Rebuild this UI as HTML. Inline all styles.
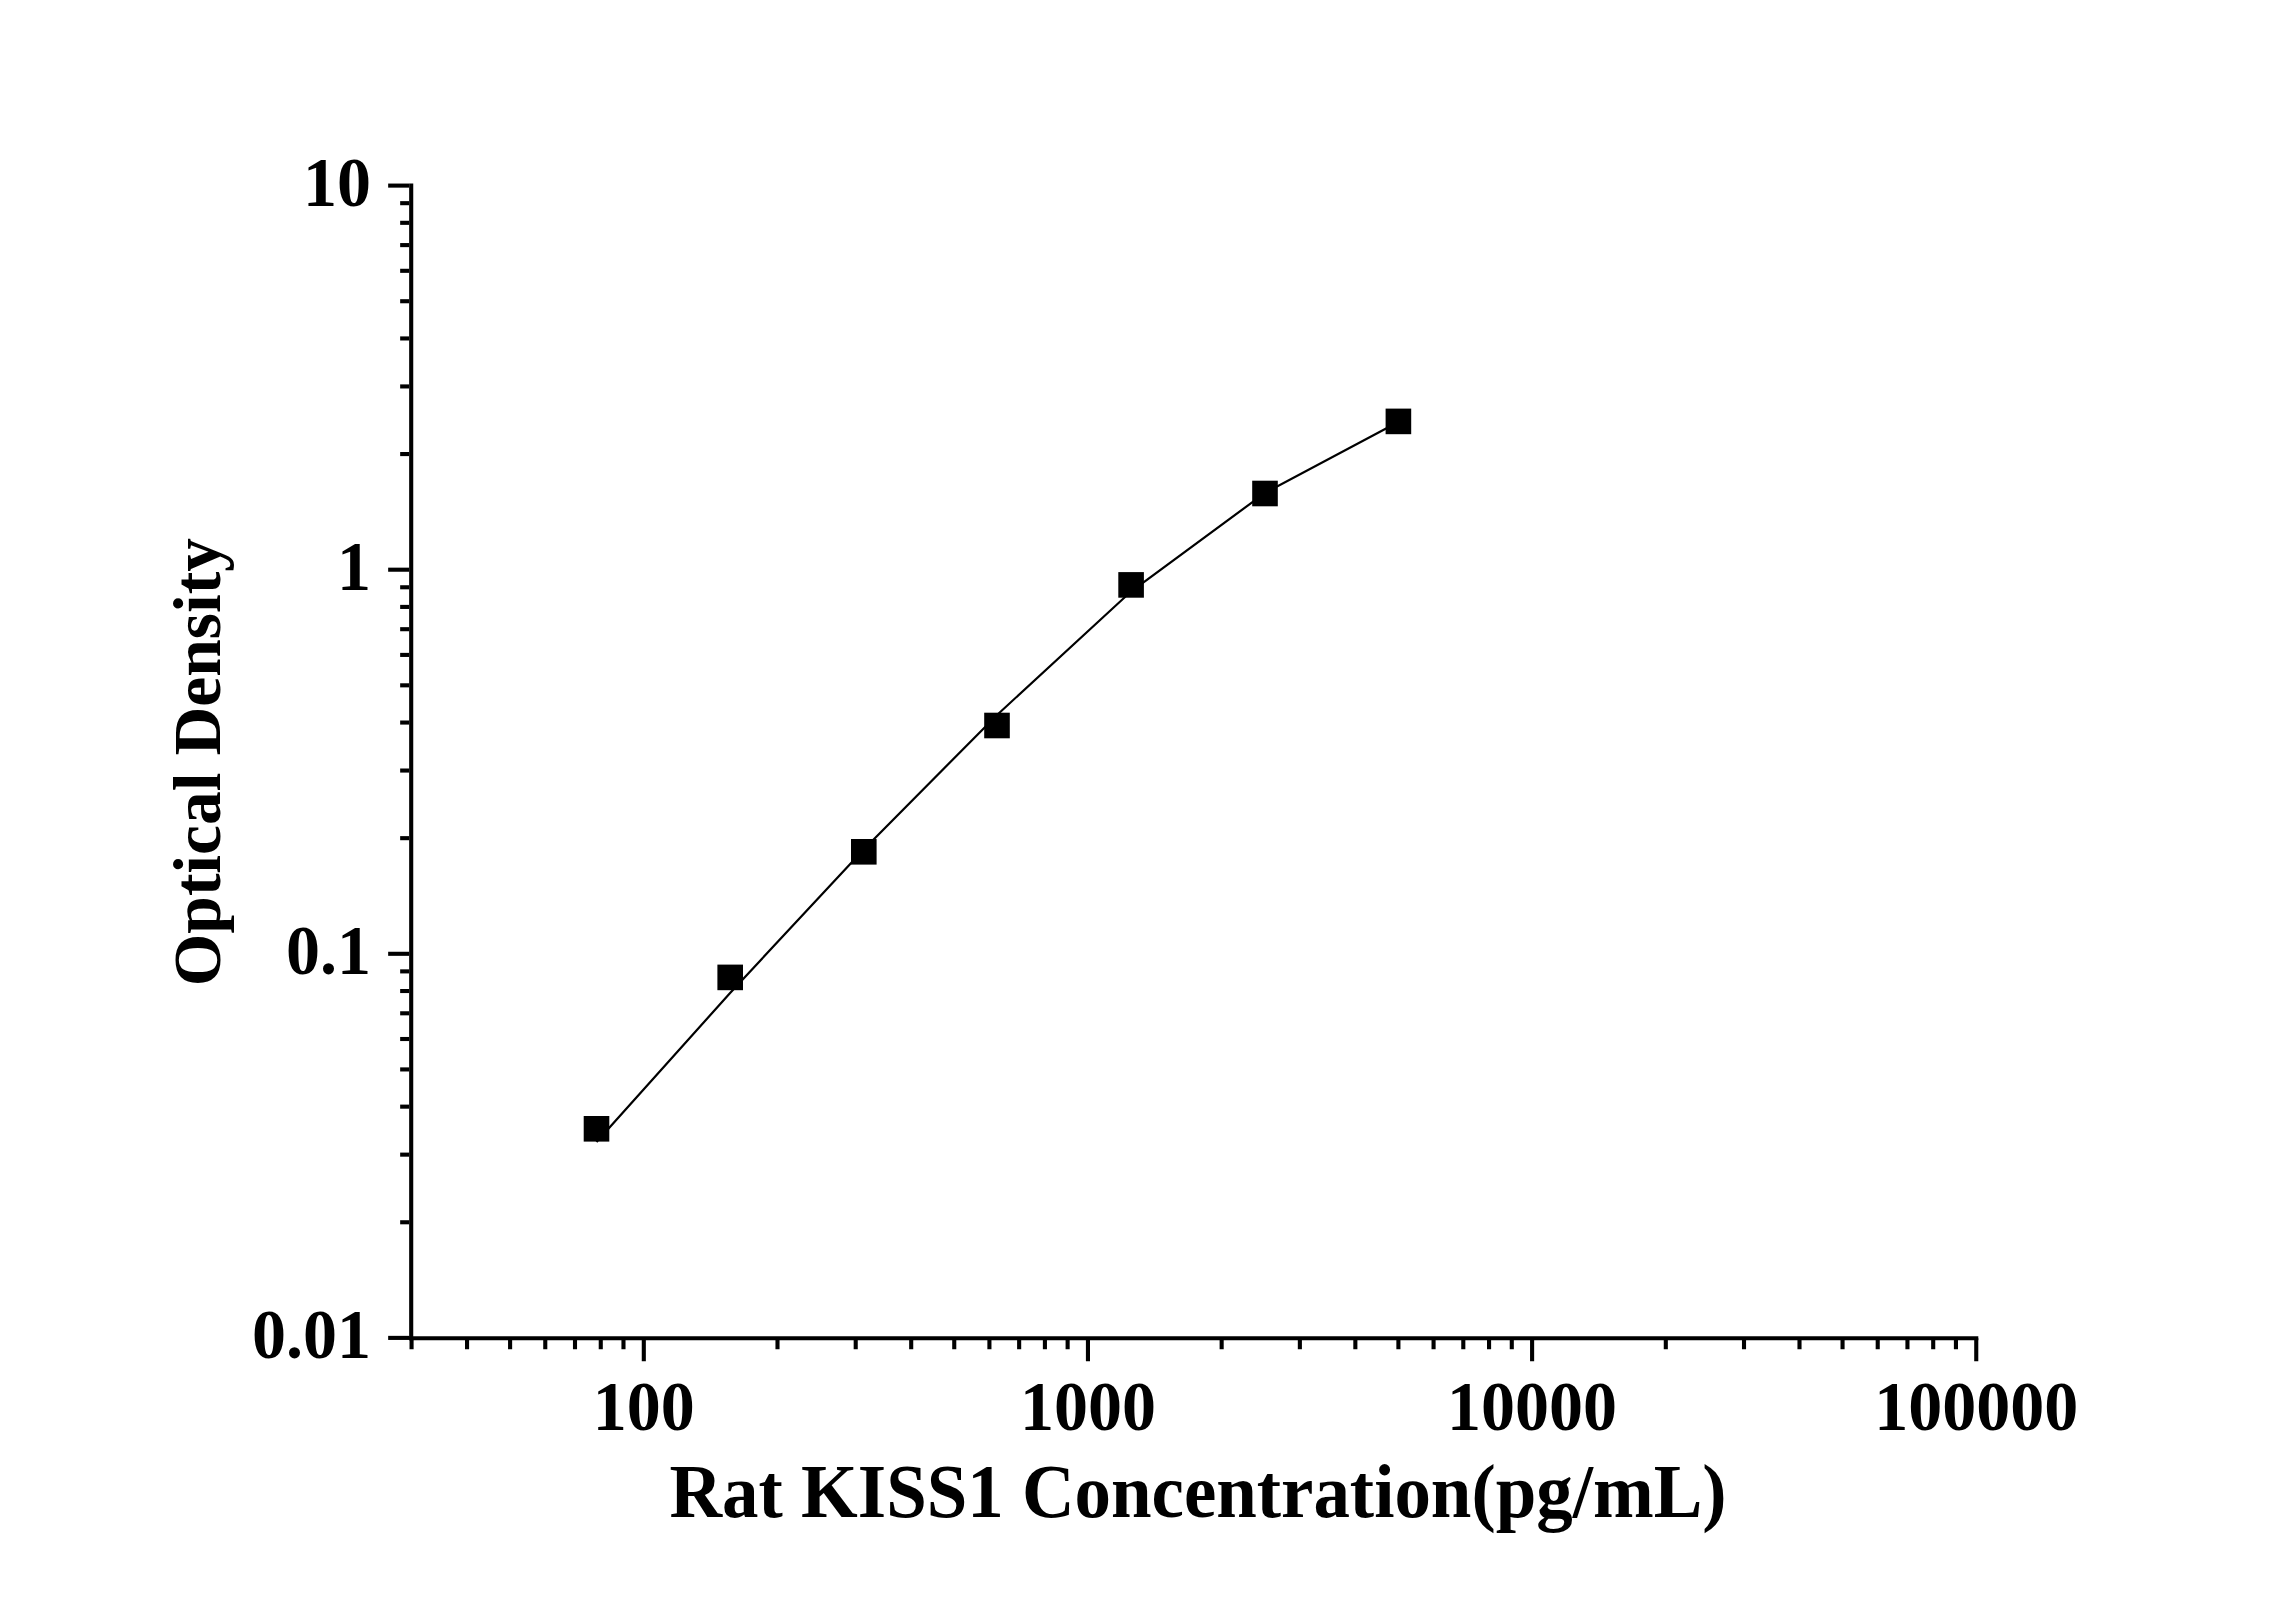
<!DOCTYPE html>
<html><head><meta charset="utf-8"><style>
html,body{margin:0;padding:0;background:#fff;}
body{width:2296px;height:1604px;overflow:hidden;}
svg{display:block;}
.t{font-family:"Liberation Serif",serif;font-weight:bold;font-size:68px;fill:#000;}
.ti{font-family:"Liberation Serif",serif;font-weight:bold;font-size:72.9px;fill:#000;}
.ti2{font-family:"Liberation Serif",serif;font-weight:bold;font-size:67.5px;fill:#000;}
</style></head><body>
<svg width="2296" height="1604" viewBox="0 0 2296 1604">
<rect width="2296" height="1604" fill="#fff"/>
<line x1="411.2" y1="183.55" x2="411.2" y2="1340.25" stroke="#000" stroke-width="4.1"/>
<line x1="409.15" y1="1338.2" x2="1978.30" y2="1338.2" stroke="#000" stroke-width="4.1"/>
<line x1="388.15" y1="1337.90" x2="409.15" y2="1337.90" stroke="#000" stroke-width="4.1"/>
<line x1="400.15" y1="1222.27" x2="409.15" y2="1222.27" stroke="#000" stroke-width="4.1"/>
<line x1="400.15" y1="1154.64" x2="409.15" y2="1154.64" stroke="#000" stroke-width="4.1"/>
<line x1="400.15" y1="1106.65" x2="409.15" y2="1106.65" stroke="#000" stroke-width="4.1"/>
<line x1="400.15" y1="1069.43" x2="409.15" y2="1069.43" stroke="#000" stroke-width="4.1"/>
<line x1="400.15" y1="1039.01" x2="409.15" y2="1039.01" stroke="#000" stroke-width="4.1"/>
<line x1="400.15" y1="1013.30" x2="409.15" y2="1013.30" stroke="#000" stroke-width="4.1"/>
<line x1="400.15" y1="991.02" x2="409.15" y2="991.02" stroke="#000" stroke-width="4.1"/>
<line x1="400.15" y1="971.38" x2="409.15" y2="971.38" stroke="#000" stroke-width="4.1"/>
<line x1="388.15" y1="953.80" x2="409.15" y2="953.80" stroke="#000" stroke-width="4.1"/>
<line x1="400.15" y1="838.17" x2="409.15" y2="838.17" stroke="#000" stroke-width="4.1"/>
<line x1="400.15" y1="770.54" x2="409.15" y2="770.54" stroke="#000" stroke-width="4.1"/>
<line x1="400.15" y1="722.55" x2="409.15" y2="722.55" stroke="#000" stroke-width="4.1"/>
<line x1="400.15" y1="685.33" x2="409.15" y2="685.33" stroke="#000" stroke-width="4.1"/>
<line x1="400.15" y1="654.91" x2="409.15" y2="654.91" stroke="#000" stroke-width="4.1"/>
<line x1="400.15" y1="629.20" x2="409.15" y2="629.20" stroke="#000" stroke-width="4.1"/>
<line x1="400.15" y1="606.92" x2="409.15" y2="606.92" stroke="#000" stroke-width="4.1"/>
<line x1="400.15" y1="587.28" x2="409.15" y2="587.28" stroke="#000" stroke-width="4.1"/>
<line x1="388.15" y1="569.70" x2="409.15" y2="569.70" stroke="#000" stroke-width="4.1"/>
<line x1="400.15" y1="454.07" x2="409.15" y2="454.07" stroke="#000" stroke-width="4.1"/>
<line x1="400.15" y1="386.44" x2="409.15" y2="386.44" stroke="#000" stroke-width="4.1"/>
<line x1="400.15" y1="338.45" x2="409.15" y2="338.45" stroke="#000" stroke-width="4.1"/>
<line x1="400.15" y1="301.23" x2="409.15" y2="301.23" stroke="#000" stroke-width="4.1"/>
<line x1="400.15" y1="270.81" x2="409.15" y2="270.81" stroke="#000" stroke-width="4.1"/>
<line x1="400.15" y1="245.10" x2="409.15" y2="245.10" stroke="#000" stroke-width="4.1"/>
<line x1="400.15" y1="222.82" x2="409.15" y2="222.82" stroke="#000" stroke-width="4.1"/>
<line x1="400.15" y1="203.18" x2="409.15" y2="203.18" stroke="#000" stroke-width="4.1"/>
<line x1="388.15" y1="185.60" x2="409.15" y2="185.60" stroke="#000" stroke-width="4.1"/>
<line x1="411.56" y1="1338.20" x2="411.56" y2="1349.25" stroke="#000" stroke-width="4.1"/>
<line x1="467.05" y1="1338.20" x2="467.05" y2="1349.25" stroke="#000" stroke-width="4.1"/>
<line x1="510.10" y1="1338.20" x2="510.10" y2="1349.25" stroke="#000" stroke-width="4.1"/>
<line x1="545.27" y1="1338.20" x2="545.27" y2="1349.25" stroke="#000" stroke-width="4.1"/>
<line x1="575.00" y1="1338.20" x2="575.00" y2="1349.25" stroke="#000" stroke-width="4.1"/>
<line x1="600.76" y1="1338.20" x2="600.76" y2="1349.25" stroke="#000" stroke-width="4.1"/>
<line x1="623.48" y1="1338.20" x2="623.48" y2="1349.25" stroke="#000" stroke-width="4.1"/>
<line x1="643.80" y1="1338.20" x2="643.80" y2="1361.25" stroke="#000" stroke-width="4.1"/>
<line x1="777.50" y1="1338.20" x2="777.50" y2="1349.25" stroke="#000" stroke-width="4.1"/>
<line x1="855.71" y1="1338.20" x2="855.71" y2="1349.25" stroke="#000" stroke-width="4.1"/>
<line x1="911.20" y1="1338.20" x2="911.20" y2="1349.25" stroke="#000" stroke-width="4.1"/>
<line x1="954.25" y1="1338.20" x2="954.25" y2="1349.25" stroke="#000" stroke-width="4.1"/>
<line x1="989.42" y1="1338.20" x2="989.42" y2="1349.25" stroke="#000" stroke-width="4.1"/>
<line x1="1019.15" y1="1338.20" x2="1019.15" y2="1349.25" stroke="#000" stroke-width="4.1"/>
<line x1="1044.91" y1="1338.20" x2="1044.91" y2="1349.25" stroke="#000" stroke-width="4.1"/>
<line x1="1067.63" y1="1338.20" x2="1067.63" y2="1349.25" stroke="#000" stroke-width="4.1"/>
<line x1="1087.95" y1="1338.20" x2="1087.95" y2="1361.25" stroke="#000" stroke-width="4.1"/>
<line x1="1221.65" y1="1338.20" x2="1221.65" y2="1349.25" stroke="#000" stroke-width="4.1"/>
<line x1="1299.86" y1="1338.20" x2="1299.86" y2="1349.25" stroke="#000" stroke-width="4.1"/>
<line x1="1355.35" y1="1338.20" x2="1355.35" y2="1349.25" stroke="#000" stroke-width="4.1"/>
<line x1="1398.40" y1="1338.20" x2="1398.40" y2="1349.25" stroke="#000" stroke-width="4.1"/>
<line x1="1433.57" y1="1338.20" x2="1433.57" y2="1349.25" stroke="#000" stroke-width="4.1"/>
<line x1="1463.30" y1="1338.20" x2="1463.30" y2="1349.25" stroke="#000" stroke-width="4.1"/>
<line x1="1489.06" y1="1338.20" x2="1489.06" y2="1349.25" stroke="#000" stroke-width="4.1"/>
<line x1="1511.78" y1="1338.20" x2="1511.78" y2="1349.25" stroke="#000" stroke-width="4.1"/>
<line x1="1532.10" y1="1338.20" x2="1532.10" y2="1361.25" stroke="#000" stroke-width="4.1"/>
<line x1="1665.80" y1="1338.20" x2="1665.80" y2="1349.25" stroke="#000" stroke-width="4.1"/>
<line x1="1744.01" y1="1338.20" x2="1744.01" y2="1349.25" stroke="#000" stroke-width="4.1"/>
<line x1="1799.50" y1="1338.20" x2="1799.50" y2="1349.25" stroke="#000" stroke-width="4.1"/>
<line x1="1842.55" y1="1338.20" x2="1842.55" y2="1349.25" stroke="#000" stroke-width="4.1"/>
<line x1="1877.72" y1="1338.20" x2="1877.72" y2="1349.25" stroke="#000" stroke-width="4.1"/>
<line x1="1907.45" y1="1338.20" x2="1907.45" y2="1349.25" stroke="#000" stroke-width="4.1"/>
<line x1="1933.21" y1="1338.20" x2="1933.21" y2="1349.25" stroke="#000" stroke-width="4.1"/>
<line x1="1955.93" y1="1338.20" x2="1955.93" y2="1349.25" stroke="#000" stroke-width="4.1"/>
<line x1="1976.25" y1="1338.20" x2="1976.25" y2="1361.25" stroke="#000" stroke-width="4.1"/>
<path d="M596.50,1141.90 L730.10,993.00 L863.70,849.40 L997.30,714.70 L1131.00,591.50 L1264.70,493.10 L1398.30,422.00" fill="none" stroke="#000" stroke-width="2.2" stroke-linejoin="miter"/>
<rect x="583.70" y="1116.00" width="25.6" height="25.6" fill="#000"/>
<rect x="717.40" y="964.60" width="25.6" height="25.6" fill="#000"/>
<rect x="851.00" y="839.00" width="25.6" height="25.6" fill="#000"/>
<rect x="984.20" y="712.70" width="25.6" height="25.6" fill="#000"/>
<rect x="1118.30" y="572.10" width="25.6" height="25.6" fill="#000"/>
<rect x="1252.20" y="480.70" width="25.6" height="25.6" fill="#000"/>
<rect x="1385.60" y="408.60" width="25.6" height="25.6" fill="#000"/>
<text transform="translate(371.0,205.53) scale(1,1.03)" text-anchor="end" class="t">10</text>
<text transform="translate(371.0,589.63) scale(1,1.03)" text-anchor="end" class="t">1</text>
<text transform="translate(371.0,973.73) scale(1,1.03)" text-anchor="end" class="t">0.1</text>
<text transform="translate(371.0,1357.83) scale(1,1.03)" text-anchor="end" class="t">0.01</text>
<text transform="translate(643.80,1430.2) scale(1,1.03)" text-anchor="middle" class="t">100</text>
<text transform="translate(1087.95,1430.2) scale(1,1.03)" text-anchor="middle" class="t">1000</text>
<text transform="translate(1532.10,1430.2) scale(1,1.03)" text-anchor="middle" class="t">10000</text>
<text transform="translate(1976.25,1430.2) scale(1,1.03)" text-anchor="middle" class="t">100000</text>
<text transform="translate(1198.0,1516.8) scale(1,1.03)" text-anchor="middle" class="ti">Rat KISS1 Concentration(pg/mL)</text>
<text transform="translate(220,762.1) rotate(-90)" x="0" y="0" text-anchor="middle" class="ti2">Optical Density</text>
</svg>
</body></html>
